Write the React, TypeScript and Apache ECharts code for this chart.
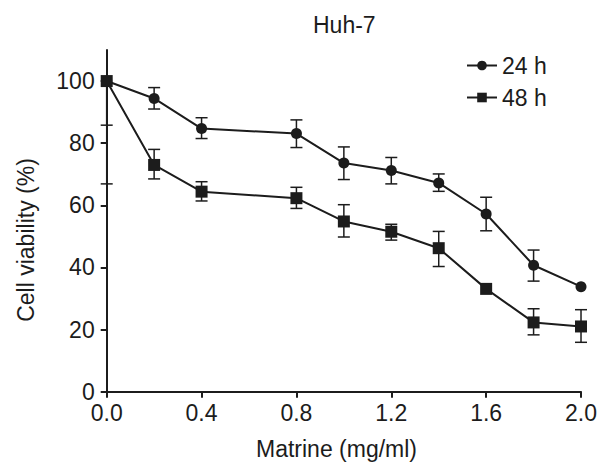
import React, { useEffect, useRef } from "react";
import * as echarts from "echarts";

const doses = [0, 0.2, 0.4, 0.8, 1.0, 1.2, 1.4, 1.6, 1.8, 2.0];
const viability24 = [100, 94.4, 84.7, 83.1, 73.6, 71.2, 67.2, 57.2, 40.7, 33.8];
const viability48 = [100, 73.0, 64.4, 62.3, 54.8, 51.5, 46.2, 33.1, 22.3, 21.0];
// error bar bounds (lower, upper); null = no cap drawn
const low24 = [85.8, 91.0, 81.5, 78.6, 68.3, 66.9, 64.5, 51.8, 35.6, null];
const high24 = [null, 97.9, 88.2, 87.5, 78.8, 75.4, 70.1, 62.6, 45.6, null];
const low48 = [66.9, 68.5, 61.4, 59.0, 49.8, 48.8, 40.3, null, 18.3, 15.9];
const high48 = [null, 78.0, 67.6, 65.8, 60.2, 53.9, 51.6, null, 26.7, 26.4];
const xTicks = [0, 0.4, 0.8, 1.2, 1.6, 2.0];
const yTicks = [0, 20, 40, 60, 80, 100];
const seriesNames = ["24 h", "48 h"];

const INK = "#1c1c1c";
const FONT = "'Liberation Sans', Arial, Helvetica, sans-serif";
const FS = 23;

function errData(lows: (number | null)[], highs: (number | null)[], vals: number[]) {
  return doses.map((d, i) => [d, vals[i], lows[i] == null ? NaN : lows[i], highs[i] == null ? NaN : highs[i]]);
}

function renderErr(params: any, api: any) {
  const x = api.value(0);
  const y = api.value(1);
  const lo = api.value(2);
  const hi = api.value(3);
  const children: any[] = [];
  const style = { stroke: INK, lineWidth: 1.5 };
  const half = 6;
  const c = api.coord([x, y]);
  if (!isNaN(lo)) {
    const p = api.coord([x, lo]);
    children.push({ type: "line", shape: { x1: c[0], y1: c[1], x2: p[0], y2: p[1] }, style });
    children.push({ type: "line", shape: { x1: p[0] - half, y1: p[1], x2: p[0] + half, y2: p[1] }, style });
  }
  if (!isNaN(hi)) {
    const p = api.coord([x, hi]);
    children.push({ type: "line", shape: { x1: c[0], y1: c[1], x2: p[0], y2: p[1] }, style });
    children.push({ type: "line", shape: { x1: p[0] - half, y1: p[1], x2: p[0] + half, y2: p[1] }, style });
  }
  return { type: "group", children };
}

export default function App() {
  const ref = useRef<HTMLDivElement>(null);
  useEffect(() => {
    if (!ref.current) return;
    const chart = echarts.init(ref.current, null, { renderer: "svg" });
    chart.setOption({
      animation: false,
      backgroundColor: "#ffffff",
      textStyle: { fontFamily: FONT },
      title: {
        text: "Huh-7",
        left: 313,
        top: 13,
        padding: 0,
        textStyle: { fontFamily: FONT, fontSize: FS, fontWeight: "normal", color: INK },
      },
      legend: {
        orient: "vertical",
        left: 466,
        top: 54,
        padding: 0,
        itemWidth: 30,
        itemHeight: 12,
        itemGap: 9,
        data: seriesNames,
        textStyle: { fontFamily: FONT, fontSize: FS, color: INK, lineHeight: 22 },
      },
      grid: { left: 106.7, right: 17.3, top: 50, bottom: 72.3 },
      xAxis: {
        type: "value",
        min: 0,
        max: 2,
        interval: 0.4,
        splitLine: { show: false },
        axisLine: { lineStyle: { color: INK, width: 2 } },
        axisTick: { length: 6, lineStyle: { color: INK, width: 2 }, customValues: xTicks },
        axisLabel: {
          margin: 10,
          fontSize: FS,
          color: INK,
          fontFamily: FONT,
          customValues: xTicks,
          formatter: (v: number) => v.toFixed(1),
        },
      },
      yAxis: {
        type: "value",
        min: 0,
        max: 110,
        interval: 20,
        splitLine: { show: false },
        axisLine: { lineStyle: { color: INK, width: 2 } },
        axisTick: { length: 6, lineStyle: { color: INK, width: 2 }, customValues: yTicks },
        axisLabel: {
          margin: 12,
          fontSize: FS,
          color: INK,
          fontFamily: FONT,
          customValues: yTicks,
        },
      },
      graphic: [
        {
          type: "text",
          x: 26,
          y: 240,
          rotation: Math.PI / 2,
          style: {
            text: "Cell viability (%)",
            fontSize: FS,
            fontFamily: FONT,
            fill: INK,
            align: "center",
            verticalAlign: "middle",
          },
        },
        {
          type: "text",
          x: 336.5,
          y: 449,
          style: {
            text: "Matrine (mg/ml)",
            fontSize: FS,
            fontFamily: FONT,
            fill: INK,
            align: "center",
            verticalAlign: "middle",
          },
        },
      ],
      series: [
        {
          type: "custom",
          name: "err24",
          renderItem: renderErr,
          data: errData(low24, high24, viability24),
          encode: { x: 0, y: 1 },
          z: 1,
        },
        {
          type: "custom",
          name: "err48",
          renderItem: renderErr,
          data: errData(low48, high48, viability48),
          encode: { x: 0, y: 1 },
          z: 1,
        },
        {
          type: "line",
          name: seriesNames[0],
          data: doses.map((d, i) => [d, viability24[i]]),
          symbol: "circle",
          symbolSize: 11,
          itemStyle: { color: INK },
          lineStyle: { color: INK, width: 2 },
          z: 3,
        },
        {
          type: "line",
          name: seriesNames[1],
          data: doses.map((d, i) => [d, viability48[i]]),
          symbol: "rect",
          symbolSize: 12,
          itemStyle: { color: INK },
          lineStyle: { color: INK, width: 2 },
          z: 3,
        },
      ],
    });
    return () => chart.dispose();
  }, []);
  return <div ref={ref} style={{ width: 600, height: 464, position: "absolute", left: 0, top: 0 }} />;
}
